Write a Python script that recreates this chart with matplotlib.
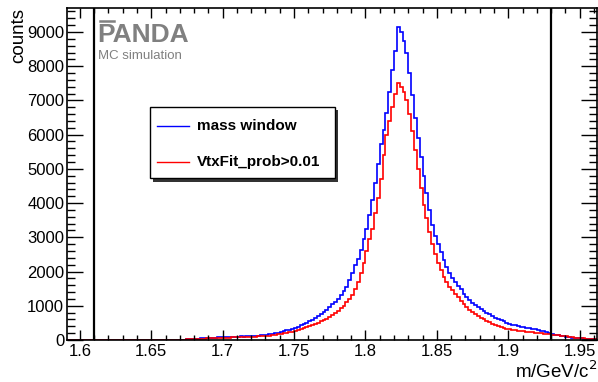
import numpy as np
import matplotlib
matplotlib.use("Agg")
import matplotlib.pyplot as plt
from matplotlib.patches import Rectangle
from matplotlib.lines import Line2D

plt.rcParams["font.family"] = ["Liberation Sans", "DejaVu Sans"]

# ── data (counts per 0.002 GeV bin, first bin starts at 1.668) ────────────────
BIN_START = 1.668
BIN_WIDTH = 0.002
X_MIN, X_MAX = 1.591, 1.962
WINDOW = [1.61, 1.93]

mass_window = [
    2, 8, 14, 20, 25, 30, 36, 40, 45, 50, 56, 60, 64, 70, 74, 80,
    82, 85, 92, 90, 97, 100, 103, 101, 110, 115, 118, 124, 128, 137, 145, 160, 168, 180, 192, 210,
    230, 255, 280, 300, 335, 360, 390, 430, 465, 500, 545, 590, 640, 690, 750, 810, 880, 960, 1040, 1120,
    1210, 1310, 1430, 1560, 1760, 1960, 2200, 2380, 2640, 2950,
    3250, 3640, 4100, 4580, 5150, 5720, 6150, 6620, 7250, 7900, 8450, 9150,
    9000, 8750, 8400, 7800, 7150, 6500, 5900, 5350, 4800, 4300, 3800, 3350, 3050, 2800, 2560,
    2330, 2130, 1960, 1800, 1700, 1590, 1480, 1350, 1250, 1170, 1080, 1020, 950, 900, 840,
    800, 750, 700, 650, 610, 580, 540, 500, 480, 450, 430, 410, 390, 380, 360, 345, 330,
    310, 290, 270, 250, 230, 205, 185, 160, 140, 120, 105, 95, 80, 70, 62, 55, 48, 42,
    36, 30, 25, 20,
]

vtxfit = [
    1, 5, 10, 15, 20, 25, 28, 33, 37, 42, 46, 50, 53, 57, 60, 64,
    66, 68, 72, 75, 78, 80, 83, 82, 88, 92, 95, 99, 103, 108, 115, 122, 130, 138, 150, 165,
    180, 195, 210, 225, 245, 270, 290, 315, 340, 370, 400, 430, 465, 500, 540, 580, 625, 670, 730, 790,
    850, 920, 1000, 1100, 1200, 1300, 1480, 1700, 1950, 2250,
    2600, 2950, 3250, 3700, 4150, 4700, 5400, 6000, 6400, 6800, 7200, 7500,
    7400, 7250, 7000, 6600, 6100, 5550, 5000, 4450, 3950, 3550, 3150, 2800, 2500, 2250, 2050,
    1850, 1700, 1560, 1450, 1350, 1250, 1150, 1050, 960, 880, 810, 760, 700, 650, 610,
    560, 520, 480, 450, 420, 390, 360, 335, 310, 295, 285, 275, 265, 255, 245, 235, 225,
    215, 205, 195, 185, 175, 165, 155, 145, 138, 128, 118, 105, 92, 80, 70, 62, 55, 48,
    40, 34, 28, 22,
]

labels = ["mass window", "VtxFit_prob>0.01"]
colors = ["#0000ff", "#ff0000"]

# ── figure ─────────────────────────────────────────────────────────────────────
fig = plt.figure(figsize=(5.98, 3.82), dpi=100)
ax = fig.add_axes([0.112, 0.110, 0.886, 0.869])

for vals, col in zip([mass_window, vtxfit], colors):
    edges = BIN_START + BIN_WIDTH * np.arange(len(vals) + 1)
    edges = np.concatenate([[X_MIN], edges])
    ax.stairs([0] + vals, edges, color=col, lw=1.2, baseline=None)

for xw in WINDOW:
    ax.axvline(xw, color="black", lw=1.6)

ax.set_xlim(X_MIN, X_MAX)
ax.set_ylim(0, 9700)
ax.set_xticks(np.arange(1.60, 1.951, 0.05))
ax.set_xticklabels(["1.6", "1.65", "1.7", "1.75", "1.8", "1.85", "1.9", "1.95"])
ax.set_xticks(np.arange(1.60, 1.961, 0.01), minor=True)
ax.set_yticks(np.arange(0, 9001, 1000))
ax.set_yticks(np.arange(0, 9601, 200), minor=True)

ax.tick_params(axis="both", which="both", direction="in", top=True, right=True,
               labelsize=12, width=1.0, colors="black")
ax.tick_params(axis="x", which="major", length=7.2, pad=3)
ax.tick_params(axis="x", which="minor", length=3.6)
ax.tick_params(axis="y", which="major", length=11.5, pad=2)
ax.tick_params(axis="y", which="minor", length=5.8)
for sp in ax.spines.values():
    sp.set_linewidth(1.2)

ax.set_xlabel("m/GeV/c$^2$", loc="right", fontsize=13.5, labelpad=1)
ax.set_ylabel("counts", loc="top", fontsize=13.5, labelpad=0)

# PANDA logo
ax.text(0.058, 0.897, "PANDA", transform=ax.transAxes, fontsize=19,
        fontweight="bold", color="#808080", va="baseline", ha="left")
ax.add_line(Line2D([0.062, 0.088], [0.961, 0.961], transform=ax.transAxes,
                   color="#808080", lw=1.8))
ax.text(0.058, 0.874, "MC simulation", transform=ax.transAxes, fontsize=9.5,
        color="#808080", va="top", ha="left")

# legend box with shadow
x0, x1, y0, y1 = 0.157, 0.506, 0.487, 0.702
ax.add_patch(Rectangle((x0 + 0.006, y0 - 0.010), x1 - x0, y1 - y0,
                       transform=ax.transAxes, facecolor="#333333", edgecolor="none", zorder=4))
ax.add_patch(Rectangle((x0, y0), x1 - x0, y1 - y0, transform=ax.transAxes,
                       facecolor="white", edgecolor="black", lw=1.0, zorder=5))
for i, (lab, col) in enumerate(zip(labels, colors)):
    yy = 0.645 - i * 0.108
    ax.add_line(Line2D([0.170, 0.230], [yy, yy], transform=ax.transAxes,
                       color=col, lw=1.0, zorder=6))
    ax.text(0.245, yy, lab, transform=ax.transAxes, fontsize=11,
            fontweight="bold", va="center", ha="left", zorder=6)

fig.savefig("out.png", dpi=100)
